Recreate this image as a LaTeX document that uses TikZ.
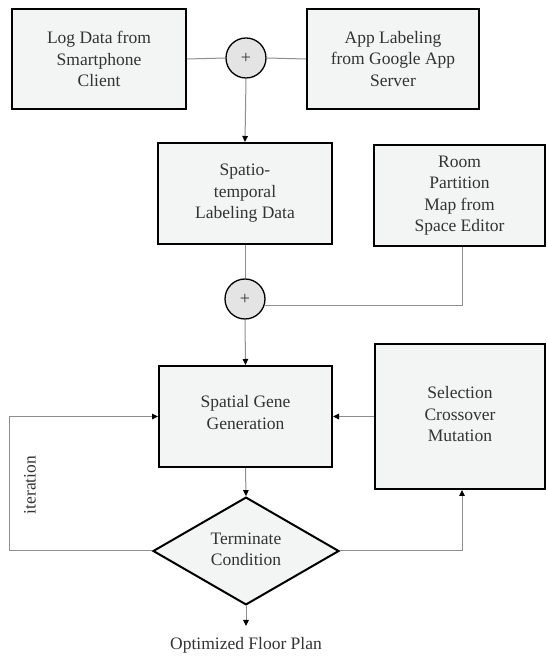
\documentclass[tikz,border=0pt]{standalone}
\usepackage{fontspec}
\setmainfont{Liberation Serif}
\usetikzlibrary{shapes.geometric,arrows.meta}
\definecolor{boxfill}{HTML}{F3F4F4}
\definecolor{circfill}{HTML}{E4E4E4}
\definecolor{linegray}{HTML}{8E8E8E}
\definecolor{txt}{HTML}{333333}
\tikzset{
  procbox/.style={draw=black, line width=2pt, fill=boxfill, align=center,
    text=txt, font=\fontsize{17.5}{21.5}\selectfont, inner sep=0pt},
  plusnode/.style={draw=black, line width=1.3pt, fill=circfill, circle,
    minimum size=40pt, inner sep=0pt, text=txt, font=\fontsize{18}{18}\selectfont},
  decision/.style={draw=black, line width=2pt, fill=boxfill, diamond,
    minimum width=186pt, minimum height=86pt, inner sep=0pt, align=center,
    text=txt, font=\fontsize{17.5}{21.5}\selectfont},
  conn/.style={draw=linegray, line width=1pt},
  arr/.style={conn, -{Triangle[length=6pt,width=5.5pt,color=black]}},
  plain/.style={text=txt, font=\fontsize{17.5}{21.5}\selectfont, inner sep=0pt}
}
\begin{document}
\begin{tikzpicture}[x=1pt,y=1pt]
\useasboundingbox (0,0) rectangle (547,656);
\node[procbox, minimum width=174pt, minimum height=100pt] (log) at (99,597) {Log Data from\\Smartphone\\Client};
\node[procbox, minimum width=172pt, minimum height=100pt] (app) at (393,597) {App Labeling\\from Google App\\Server};
\node[plusnode] (p1) at (246,598) {+};
\node[procbox, minimum width=174pt, minimum height=101pt] (st) at (245,462.5) {Spatio-\\temporal\\Labeling Data};
\node[procbox, minimum width=171pt, minimum height=101pt] (room) at (459.5,460.5) {Room\\Partition\\Map from\\Space Editor};
\node[plusnode] (p2) at (245,357) {+};
\node[procbox, minimum width=173pt, minimum height=101pt] (sg) at (245.5,239.5) {Spatial Gene\\Generation\\[-13.5pt]};
\node[procbox, minimum width=170pt, minimum height=145pt] (sel) at (460,239.5) {Selection\\Crossover\\Mutation\\[-16.5pt]};
\node[decision] (dia) at (246,105) {Terminate\\Condition\\[-17.5pt]};
\node[plain, anchor=north, inner ysep=11.5pt] (out) at (246,30) {Optimized Floor Plan};
\node[plain, rotate=90] (iter) at (30,171) {iteration};
\coordinate (loopl) at (9,105);

\draw[conn] (log.east) -- (p1.west);
\draw[conn] (p1.east) -- (app.west);
\draw[arr] (p1.south) -- (st.north);
\draw[conn] (st.south) -- (p2.north);
\draw[conn] ([xshift=2.5pt]room.south) |- (p2.-17);
\draw[arr] (p2.south) -- (sg.north);
\draw[arr] (sel.west) -- (sg.east);
\draw[arr] (sg.south) -- (dia.north);
\draw[arr] (dia.west) -- (loopl) |- (sg.west);
\draw[arr] (dia.east) -| ([xshift=2pt]sel.south);
\draw[arr] (dia.south) -- (out.north);
\end{tikzpicture}
\end{document}
